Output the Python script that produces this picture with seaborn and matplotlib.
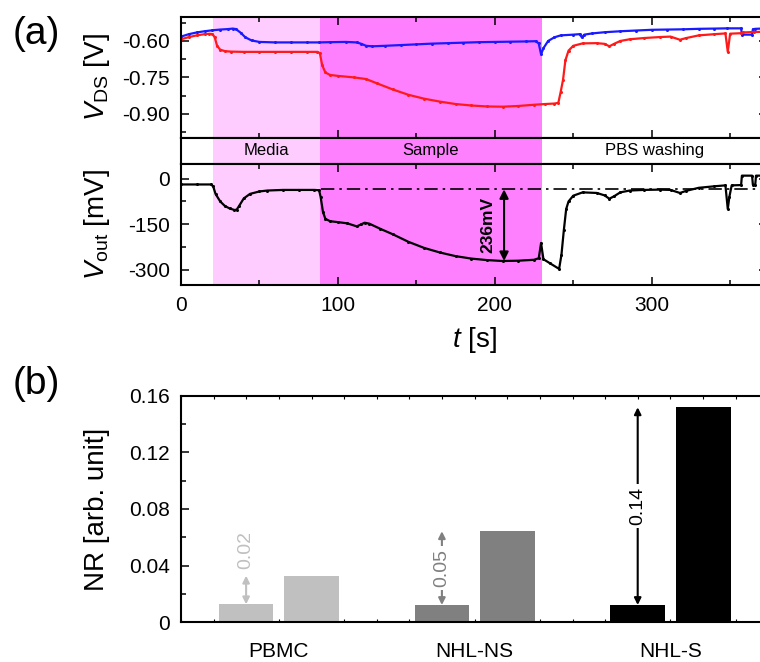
import numpy as np
import pandas as pd
import matplotlib
matplotlib.use('Agg')
import matplotlib.pyplot as plt
import seaborn as sns
from matplotlib.ticker import MultipleLocator, FixedLocator, FuncFormatter, FormatStrFormatter

sns.set_style('ticks')
plt.rcParams['font.family'] = ['Liberation Sans', 'DejaVu Sans']
plt.rcParams['mathtext.fontset'] = 'custom'
plt.rcParams['mathtext.rm'] = 'Liberation Sans'
plt.rcParams['mathtext.it'] = 'Liberation Sans:italic'
plt.rcParams['axes.unicode_minus'] = False
plt.rcParams['axes.edgecolor'] = 'black'
plt.rcParams['xtick.color'] = 'black'
plt.rcParams['ytick.color'] = 'black'
plt.rcParams['text.color'] = 'black'
plt.rcParams['axes.labelcolor'] = 'black'

# ---------------- data: panel (a) ----------------
stage_names = ['Media', 'Sample', 'PBS washing']
stage_start = [20.4, 88.5, 230.0]
stage_end = [88.5, 230.0, 374.0]
stage_colors = ['#FFCCFF', '#FF80FF', None]

t_blue = [0, 5, 10, 15, 20, 25, 30, 33, 35, 38, 41, 45, 50, 60, 70, 80, 88, 95, 105, 112,
          115, 118, 122, 130, 140, 150, 160, 170, 180, 190, 200, 210, 220, 226, 228, 229.5,
          231, 234, 238, 242, 250, 254, 255.5, 257, 262, 270, 280, 290, 300, 310, 320, 330,
          340, 348, 357, 357.5, 364, 364.5, 366, 370, 374]
vds_blue = [-0.582, -0.572, -0.565, -0.560, -0.556, -0.553, -0.551, -0.549, -0.551, -0.566,
            -0.585, -0.598, -0.604, -0.606, -0.606, -0.606, -0.606, -0.605, -0.604, -0.606,
            -0.612, -0.620, -0.622, -0.620, -0.617, -0.614, -0.611, -0.609, -0.607, -0.605,
            -0.604, -0.603, -0.602, -0.601, -0.610, -0.655, -0.630, -0.600, -0.585, -0.577,
            -0.574, -0.572, -0.585, -0.574, -0.569, -0.564, -0.560, -0.557, -0.554, -0.553,
            -0.552, -0.550, -0.549, -0.548, -0.548, -0.574, -0.574, -0.552, -0.550, -0.549,
            -0.549]

t_red = [0, 5, 10, 15, 18, 20, 21.5, 23, 25, 28, 32, 40, 50, 60, 70, 80, 87, 88.5, 90, 92,
         95, 100, 110, 118, 125, 135, 145, 155, 165, 175, 185, 195, 205, 215, 225, 232, 238,
         240.5, 242, 243.5, 245, 247, 250, 256, 265, 270, 273, 276, 280, 286, 295, 305, 312,
         318, 322, 330, 340, 347, 348.5, 350, 357, 358, 365, 374]
vds_red = [-0.593, -0.584, -0.577, -0.572, -0.570, -0.571, -0.585, -0.620, -0.636, -0.642,
           -0.644, -0.645, -0.645, -0.645, -0.645, -0.645, -0.645, -0.650, -0.700, -0.730,
           -0.740, -0.744, -0.750, -0.757, -0.775, -0.800, -0.822, -0.838, -0.850, -0.860,
           -0.866, -0.870, -0.871, -0.868, -0.863, -0.860, -0.858, -0.855, -0.810, -0.760,
           -0.680, -0.640, -0.620, -0.610, -0.609, -0.612, -0.622, -0.612, -0.600, -0.593,
           -0.588, -0.584, -0.582, -0.595, -0.588, -0.577, -0.572, -0.569, -0.645, -0.570,
           -0.568, -0.565, -0.563, -0.562]

t_out = [0, 10, 19, 20.5, 22, 25, 28, 31, 34, 35.5, 37, 40, 44, 50, 55, 65, 75, 85, 88, 89,
         90.5, 92, 95, 100, 106, 112, 115, 117, 120, 127, 135, 145, 155, 165, 175, 185, 195,
         205, 215, 225, 228, 229.5, 231, 235, 241, 242.5, 244, 245.5, 247, 250, 256, 265, 270,
         273, 276, 280, 286, 295, 305, 312, 318, 322, 330, 340, 347, 348.5, 349.5, 351, 357,
         357.5, 364, 364.5, 366, 366.5, 374]
v_out = [-19, -19, -19, -25, -50, -75, -90, -98, -103, -102, -90, -65, -50, -42, -39, -37,
         -37, -37, -38, -60, -110, -132, -140, -143, -147, -157, -150, -145, -148, -165, -183,
         -208, -228, -243, -255, -263, -268, -271, -270, -267, -262, -212, -265, -278, -297,
         -250, -170, -100, -75, -56, -45, -47, -55, -66, -58, -45, -39, -37, -36, -37, -47,
         -40, -30, -25, -22, -100, -60, -22, -21, 10, 10, -20, -20, 10, 10]

baseline_mv = -35
baseline_start = 89
drop_t = 205.9
drop_bottom = -271
drop_label = '236mV'

# ---------------- data: panel (b) ----------------
categories = ['PBMC', 'NHL-NS', 'NHL-S']
nr_before = [0.0127, 0.0122, 0.0122]
nr_after = [0.0329, 0.0643, 0.1518]
diff_labels = ['0.02', '0.05', '0.14']
cat_colors = ['#C0C0C0', '#808080', '#000000']

# ---------------- layout ----------------
W, H = 760, 662
fig = plt.figure(figsize=(W / 100, H / 100), dpi=100)


def rect(x0, y0, x1, y1):
    return [x0 / W, 1 - y1 / H, (x1 - x0) / W, (y1 - y0) / H]


ax1 = fig.add_axes(rect(181, 16.7, 767, 138))
axs = fig.add_axes(rect(181, 138, 767, 163.5))
ax2 = fig.add_axes(rect(181, 163.5, 767, 285))
ax3 = fig.add_axes(rect(181, 395.7, 768.4, 622.3))

xmax = 373.5
for ax in (ax1, axs, ax2):
    ax.set_xlim(0, xmax)
    for s0, s1, c in zip(stage_start, stage_end, stage_colors):
        if c is not None:
            ax.axvspan(s0, s1, color=c, lw=0, zorder=0)

for ax in (ax1, axs, ax2, ax3):
    for sp in ax.spines.values():
        sp.set_linewidth(1.5)
        sp.set_color('black')
        sp.set_visible(True)

line_kw = dict(lw=1.6, marker='o', markersize=2.2, markeredgewidth=0, estimator=None)
sns.lineplot(x=t_blue, y=vds_blue, ax=ax1, color='#1a1aff', **line_kw)
sns.lineplot(x=t_red, y=vds_red, ax=ax1, color='#ff1a1a', **line_kw)
sns.lineplot(x=t_out, y=v_out, ax=ax2, color='black', **line_kw)

ax1.set_ylim(-1.0, -0.5)
ax2.set_ylim(-350, 50)

# stage strip
axs.set_ylim(0, 1)
axs.set_xticks([])
axs.set_yticks([])
for name, s0, s1 in zip(stage_names, stage_start, stage_end):
    axs.text((s0 + s1) / 2, 0.5, name, ha='center', va='center', fontsize=12)

# baseline and drop arrow
ax2.plot([baseline_start, xmax], [baseline_mv, baseline_mv], color='black', lw=1.2,
         ls=(0, (8, 3, 1.5, 3)), zorder=3)
ax2.annotate('', xy=(drop_t, drop_bottom), xytext=(drop_t, baseline_mv),
             arrowprops=dict(arrowstyle='<|-|>', color='black', lw=1.5,
                             mutation_scale=13, shrinkA=0, shrinkB=0), zorder=4)
ax2.text(195.3, -152, drop_label, rotation=90, ha='center', va='center',
         fontsize=12.5, fontweight='bold')

for ax in (ax1, ax2):
    ax.xaxis.set_major_locator(MultipleLocator(100))
    ax.xaxis.set_minor_locator(MultipleLocator(50))
    ax.tick_params(which='both', direction='in', top=True, right=True, width=1.1,
                   labelsize=15, pad=8)
    ax.tick_params(which='major', length=6)
    ax.tick_params(which='minor', length=3.5)
ax1.tick_params(labelbottom=False)
ax1.yaxis.set_major_locator(MultipleLocator(0.15))
ax1.yaxis.set_minor_locator(MultipleLocator(0.075))
ax1.yaxis.set_major_formatter(FormatStrFormatter('%.2f'))
ax2.yaxis.set_major_locator(MultipleLocator(150))
ax2.yaxis.set_minor_locator(MultipleLocator(75))
ax2.yaxis.set_major_formatter(FormatStrFormatter('%d'))

ax1.set_ylabel(r'$V_{\rm DS}$ [V]', fontsize=20)
ax2.set_ylabel(r'$V_{\rm out}$ [mV]', fontsize=20)
ax2.set_xlabel(r'$t$ [s]', fontsize=20)
for ax in (ax1, ax2):
    ax.yaxis.label.set_va('center')
    ax.yaxis.set_label_coords((97 - 181) / 586, 0.5)
ax2.xaxis.label.set_va('center')
ax2.xaxis.set_label_coords(0.5, (285 - 340) / 121.5)

# ---------------- panel (b) ----------------
df = pd.DataFrame({
    'category': categories * 2,
    'stage': ['before'] * len(categories) + ['after'] * len(categories),
    'nr': nr_before + nr_after,
})
sns.barplot(data=df, x='category', y='nr', hue='stage', hue_order=['before', 'after'],
            order=categories, width=0.67, gap=0.167, saturation=1,
            palette=['black', 'black'], legend=False, ax=ax3, errorbar=None)
bars = [p for p in ax3.patches]
for p in bars:
    xc = p.get_x() + p.get_width() / 2
    idx = int(round(xc))
    p.set_facecolor(cat_colors[idx])
    p.set_edgecolor('none')

before_bars = sorted(bars, key=lambda p: p.get_x())[0::2]
for i, p in enumerate(before_bars):
    xc = p.get_x() + p.get_width() / 2
    lo, hi = nr_before[i], nr_after[i]
    col = cat_colors[i]
    ax3.annotate('', xy=(xc, hi), xytext=(xc, lo),
                 arrowprops=dict(arrowstyle='<|-|>', color=col, lw=1.5,
                                 mutation_scale=10, shrinkA=0, shrinkB=0))
    if hi - lo < 0.03:
        ax3.text(xc, hi + 0.018, diff_labels[i], rotation=90, ha='center', va='center',
                 fontsize=14, color=col)
    else:
        ax3.text(xc, (lo + hi) / 2, diff_labels[i], rotation=90, ha='center', va='center',
                 fontsize=14, color=col,
                 bbox=dict(facecolor='white', edgecolor='none', pad=2))

ax3.set_xlim(-0.5, 2.5)
ax3.set_ylim(0, 0.16)
ax3.yaxis.set_major_locator(MultipleLocator(0.04))
ax3.yaxis.set_minor_locator(MultipleLocator(0.02))
ax3.yaxis.set_major_formatter(FuncFormatter(lambda v, pos: '0' if abs(v) < 1e-9 else f'{v:.2f}'))
ax3.xaxis.set_minor_locator(FixedLocator([-0.5 + k / 6 for k in range(19)]))
ax3.tick_params(which='both', direction='in', top=True, right=True, width=1.1)
ax3.tick_params(axis='y', which='major', length=6, labelsize=15, pad=8)
ax3.tick_params(axis='y', which='minor', length=3.5)
ax3.tick_params(axis='x', which='both', length=2.5, width=0.8, labelsize=15, pad=14)
ax3.set_xlabel('')
ax3.set_ylabel('NR [arb. unit]', fontsize=20)
ax3.yaxis.label.set_va('center')
ax3.yaxis.set_label_coords((97 - 181) / 587.4, 0.5)

fig.text(36 / W, 1 - 34 / H, '(a)', fontsize=28, ha='center', va='center')
fig.text(36 / W, 1 - 384 / H, '(b)', fontsize=28, ha='center', va='center')

fig.savefig('out.png', dpi=100)
